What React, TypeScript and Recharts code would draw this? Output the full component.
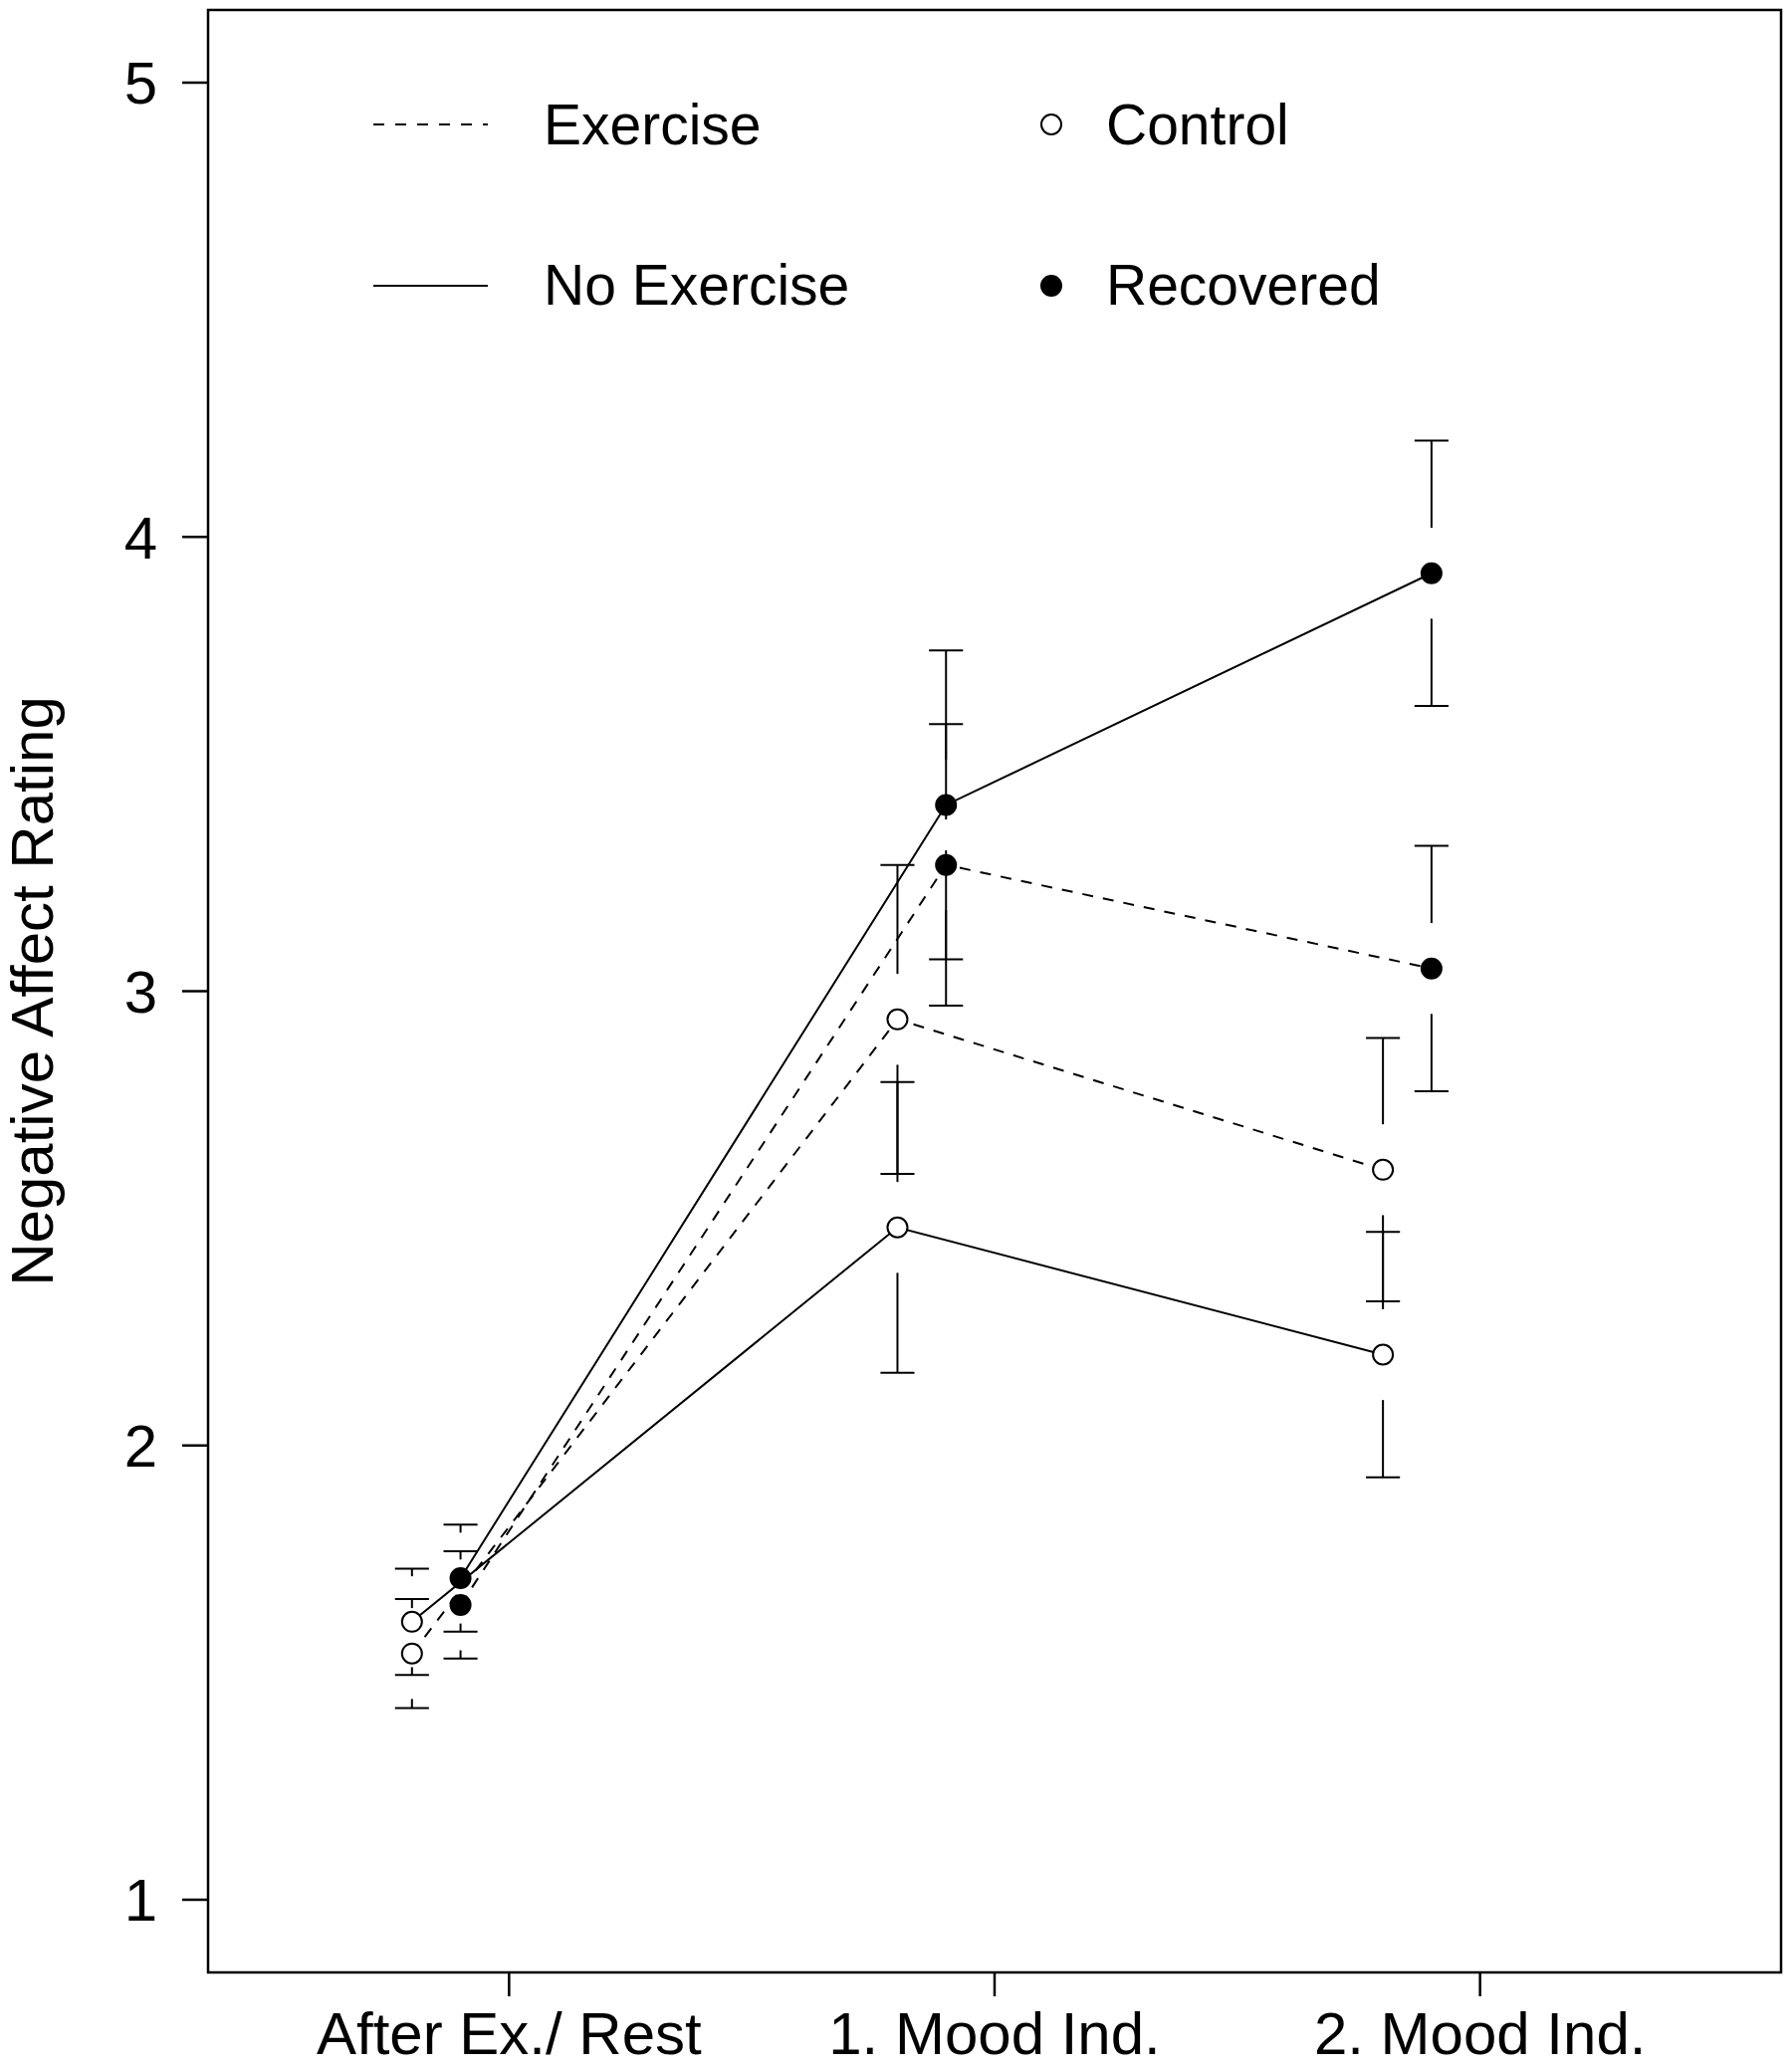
import React from "react";
import {
  ComposedChart,
  Line,
  XAxis,
  YAxis,
  ReferenceArea,
  Legend,
} from "recharts";

// time points on the x axis (positions 1, 2, 3)
const timepoints = ["After Ex./ Rest", "1. Mood Ind.", "2. Mood Ind."];
const xTicks = [1, 2, 3];
const yTicks = [1, 2, 3, 4, 5];

// group offsets from the time point
const controlShift = -0.2;
const recoveredShift = -0.1;

// means and standard errors
const controlNoExMean = [1.612, 2.48, 2.2];
const controlNoExSe = [0.117, 0.32, 0.27];
const controlExMean = [1.542, 2.938, 2.607];
const controlExSe = [0.12, 0.34, 0.29];
const recoveredNoExMean = [1.708, 3.41, 3.92];
const recoveredNoExSe = [0.118, 0.34, 0.292];
const recoveredExMean = [1.649, 3.278, 3.05];
const recoveredExSe = [0.118, 0.31, 0.27];

const FONT = "'Liberation Sans', Arial, Helvetica, sans-serif";
const DASH = "11 10";
const GAP = 0.1; // gap in the error bar around the point
const CAP = 0.035; // half width of error bar caps

const series = [
  { name: "Control No Exercise", shift: controlShift, mean: controlNoExMean, se: controlNoExSe, filled: false, dashed: false },
  { name: "Control Exercise", shift: controlShift, mean: controlExMean, se: controlExSe, filled: false, dashed: true },
  { name: "Recovered No Exercise", shift: recoveredShift, mean: recoveredNoExMean, se: recoveredNoExSe, filled: true, dashed: false },
  { name: "Recovered Exercise", shift: recoveredShift, mean: recoveredExMean, se: recoveredExSe, filled: true, dashed: true },
];

function pointsOf(s: any) {
  return s.mean.map((m: number, i: number) => ({ x: xTicks[i] + s.shift, y: m }));
}

function errorSegments(s: any) {
  const segs: any[] = [];
  s.mean.forEach((m: number, i: number) => {
    const x = xTicks[i] + s.shift;
    const e = s.se[i];
    if (e > GAP) {
      segs.push([{ x, y: m + GAP }, { x, y: m + e }]);
      segs.push([{ x, y: m - e }, { x, y: m - GAP }]);
    }
    segs.push([{ x: x - CAP, y: m + e }, { x: x + CAP, y: m + e }]);
    segs.push([{ x: x - CAP, y: m - e }, { x: x + CAP, y: m - e }]);
  });
  return segs;
}

const lineTypes = [
  { label: "Exercise", dashed: true },
  { label: "No Exercise", dashed: false },
];
const groups = [
  { label: "Control", filled: false },
  { label: "Recovered", filled: true },
];

function LegendBox() {
  return (
    <svg width={1100} height={260} style={{ display: "block" }}>
      {lineTypes.map((t, i) => (
        <g key={t.label}>
          <line x1={25} x2={140} y1={45 + i * 162} y2={45 + i * 162} stroke="#000" strokeWidth={2}
            strokeDasharray={t.dashed ? "11 11" : undefined} />
          <text x={196} y={65 + i * 161} fontSize={57} fontFamily={FONT} fill="#000">{t.label}</text>
        </g>
      ))}
      {groups.map((g, i) => (
        <g key={g.label}>
          <circle cx={706} cy={45 + i * 162} r={10} fill={g.filled ? "#000" : "#fff"} stroke="#000" strokeWidth={2} />
          <text x={761} y={65 + i * 161} fontSize={57} fontFamily={FONT} fill="#000">{g.label}</text>
        </g>
      ))}
    </svg>
  );
}

function YLabel(props: any) {
  const vb = props.viewBox;
  const cy = vb.y + vb.height / 2;
  return (
    <text x={53} y={cy} transform={`rotate(-90, 53, ${cy})`} textAnchor="middle"
      fontSize={60} fontFamily={FONT} fill="#000">
      Negative Affect Rating
    </text>
  );
}

export default function App() {
  return (
    <div style={{ position: "absolute", left: 0, top: 0, background: "#fff" }}>
      <ComposedChart width={1800} height={2079} margin={{ top: 10, right: 11, bottom: 0, left: 0 }}>
        <XAxis type="number" dataKey="x" domain={[0.38, 3.62]} ticks={xTicks} allowDataOverflow
          interval={0} tickFormatter={(v: number) => timepoints[v - 1]}
          height={98} tickSize={24} tickMargin={15} axisLine={false}
          tickLine={{ stroke: "#000", strokeWidth: 2.5 }}
          tick={{ fontSize: 60, fontFamily: FONT, fill: "#000" }} />
        <YAxis type="number" domain={[0.84, 5.16]} ticks={yTicks} allowDataOverflow
          interval={0} width={209} tickSize={26} tickMargin={25} axisLine={false}
          tickLine={{ stroke: "#000", strokeWidth: 2.5 }}
          tick={{ fontSize: 60, fontFamily: FONT, fill: "#000" }}
          label={<YLabel />} />
        <ReferenceArea x1={0.38} x2={3.62} y1={0.84} y2={5.16} fill="none" fillOpacity={0}
          stroke="#000" strokeWidth={2.5} ifOverflow="visible" />
        {series.map((s) =>
          errorSegments(s).map((seg: any, j: number) => (
            <Line key={`${s.name}-err-${j}`} data={seg} dataKey="y" stroke="#000" strokeWidth={2}
              dot={false} activeDot={false} legendType="none" isAnimationActive={false} />
          ))
        )}
        {series.map((s) => (
          <Line key={s.name} name={s.name} data={pointsOf(s)} dataKey="y" stroke="#000" strokeWidth={2}
            strokeDasharray={s.dashed ? DASH : undefined} legendType="none" activeDot={false}
            isAnimationActive={false}
            dot={(p: any) => (
              <circle key={`${s.name}-dot-${p.index}`} cx={p.cx} cy={p.cy} r={10}
                fill={s.filled ? "#000" : "#fff"} stroke="#000" strokeWidth={2} />
            )} />
        ))}
        <Legend layout="horizontal" verticalAlign="middle" align="center"
          wrapperStyle={{ left: 350, top: 80, width: 1100, height: 260 }}
          content={() => <LegendBox />} />
      </ComposedChart>
    </div>
  );
}
